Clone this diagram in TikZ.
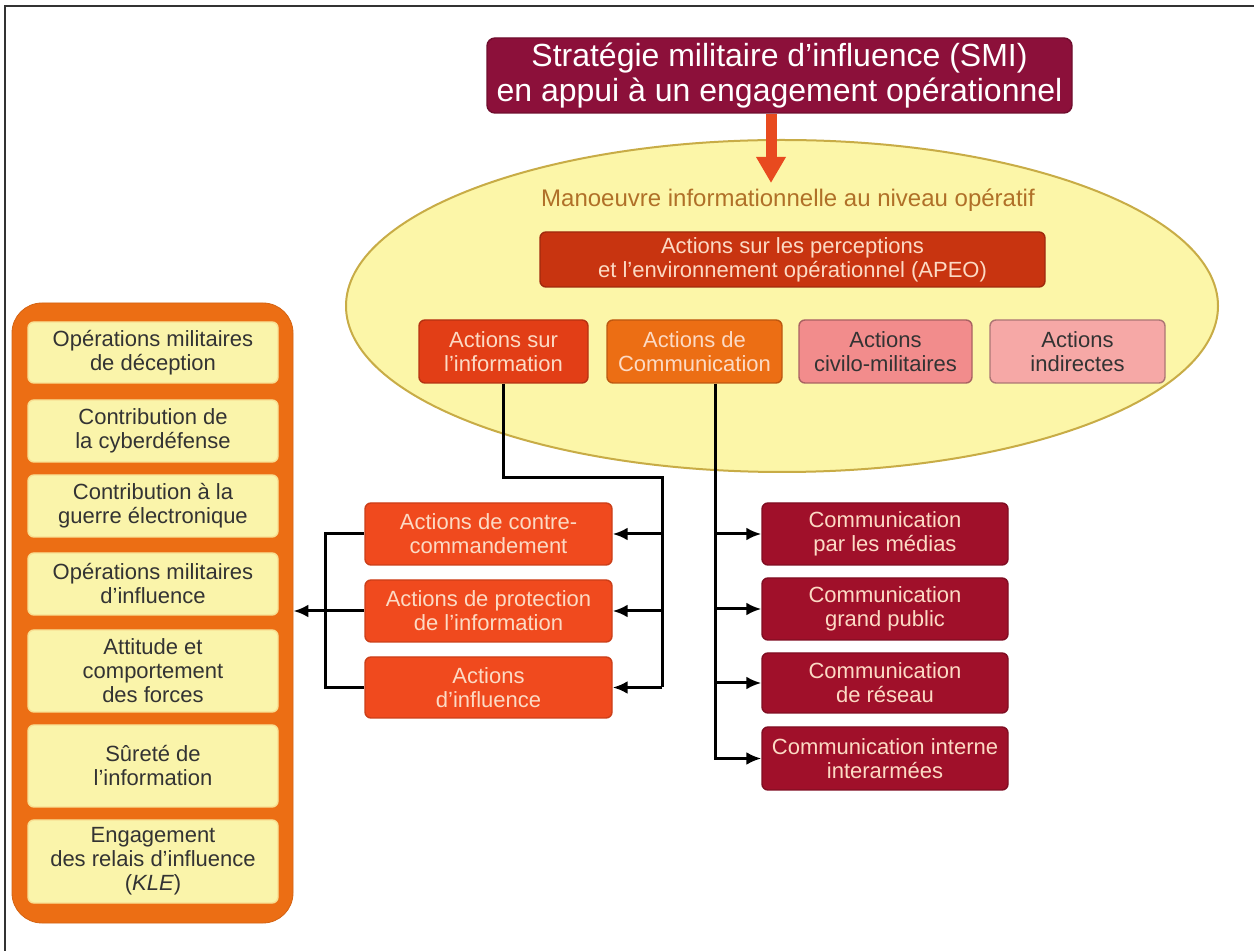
\documentclass[tikz,border=0pt]{standalone}
\usepackage{fontspec}
\setmainfont{Liberation Sans}
\usetikzlibrary{arrows.meta,shapes.geometric}
\definecolor{bordeaux}{RGB}{140,16,58}
\definecolor{flamme}{RGB}{232,74,31}
\definecolor{jaune}{RGB}{252,246,168}
\definecolor{olive}{RGB}{200,172,70}
\definecolor{brun}{RGB}{176,112,40}
\definecolor{brique}{RGB}{200,52,16}
\definecolor{rouge}{RGB}{226,62,22}
\definecolor{orange}{RGB}{236,110,20}
\definecolor{saumon}{RGB}{242,140,140}
\definecolor{rose}{RGB}{246,168,166}
\definecolor{vermillon}{RGB}{240,74,30}
\definecolor{grenat}{RGB}{160,16,42}
\definecolor{paille}{RGB}{250,244,170}
\definecolor{clair}{RGB}{252,218,196}

\begin{document}
\begin{tikzpicture}[x=0.5pt,y=-0.5pt,>={Latex[length=7.5pt,width=6.5pt]},
  bloc/.style={rectangle,rounded corners=3pt,align=center,inner sep=0pt,line width=0.7pt},
  petit/.style={font=\fontsize{11}{12}\selectfont},
  ligne/.style={line width=1.5pt},
  fleche/.style={line width=1.5pt,->}]
\useasboundingbox (0,0) rectangle (1254,951);
\fill[white] (0,0) rectangle (1254,951);
\draw[line width=1pt,black!80] (5,951) -- (5,6.5) -- (1254,6.5);

% titre
\node[bloc,rounded corners=4pt,fill=bordeaux,draw=bordeaux!80!black,text=white,
  font=\fontsize{16}{17.5}\selectfont,minimum width=292.5pt,minimum height=37.5pt]
  (titre) at (779.5,75.5) {Stratégie militaire d’influence (SMI)\\en appui à un engagement opérationnel};

% ellipse
\node[ellipse,fill=jaune,draw=olive,line width=1pt,minimum width=436pt,minimum height=166pt] (manoeuvre) at (782,306) {};
\coordinate (pointe) at (771,183);
\draw[line width=5.5pt,flamme,-{Triangle[width=14pt,length=13pt]}] (titre.south -| pointe) -- (pointe);
\node[text=brun,font=\fontsize{12}{13}\selectfont] (lblman) at (788,200) {Manoeuvre informationnelle au niveau opératif};
\node[bloc,petit,fill=brique,draw=brique!80!black,text=clair,minimum width=252.5pt,minimum height=27.5pt]
  (apeo) at (792.5,259.5) {Actions sur les perceptions\\et l'environnement opérationnel (APEO)};

\node[bloc,petit,fill=rouge,draw=rouge!80!black,text=clair,minimum width=84.5pt,minimum height=31.5pt]
  (info) at (503.5,351.5) {Actions sur\\l'information};
\node[bloc,petit,fill=orange,draw=orange!80!black,text=clair,minimum width=87.5pt,minimum height=31.5pt]
  (comm) at (694.5,351.5) {Actions de\\Communication};
\node[bloc,petit,fill=saumon,draw=saumon!70!black,text=black!80,minimum width=86.5pt,minimum height=31.5pt]
  (civil) at (885.5,351.5) {Actions\\civilo-militaires};
\node[bloc,petit,fill=rose,draw=rose!70!black,text=black!80,minimum width=87.5pt,minimum height=31.5pt]
  (indir) at (1077.5,351.5) {Actions\\indirectes};

% actions sur l'information
\node[bloc,petit,fill=vermillon,draw=vermillon!85!black,text=clair,minimum width=123.5pt,minimum height=31pt]
  (contre) at (488.5,534) {Actions de contre-\\commandement};
\node[bloc,petit,fill=vermillon,draw=vermillon!85!black,text=clair,minimum width=123.5pt,minimum height=31pt]
  (protec) at (488.5,611) {Actions de protection\\de l'information};
\node[bloc,petit,fill=vermillon,draw=vermillon!85!black,text=clair,minimum width=123.5pt,minimum height=30.5pt]
  (influ) at (488.5,687.5) {Actions\\d'influence};

% communication
\node[bloc,petit,fill=grenat,draw=grenat!80!black,text=clair,minimum width=123pt,minimum height=31pt]
  (medias) at (885,534) {Communication\\par les médias};
\node[bloc,petit,fill=grenat,draw=grenat!80!black,text=clair,minimum width=123pt,minimum height=31pt]
  (public) at (885,609) {Communication\\grand public};
\node[bloc,petit,fill=grenat,draw=grenat!80!black,text=clair,minimum width=123pt,minimum height=30pt]
  (reseau) at (885,683) {Communication\\de réseau};
\node[bloc,petit,fill=grenat,draw=grenat!80!black,text=clair,minimum width=123pt,minimum height=31.5pt]
  (interne) at (885,758.5) {Communication interne\\interarmées};

% panneau de gauche
\node[rectangle,rounded corners=15pt,fill=orange,draw=orange!90!black,minimum width=140.5pt,minimum height=310pt]
  (panneau) at (152.5,613) {};
\node[bloc,petit,fill=paille,draw=paille!85!orange,text=black!80,minimum width=125pt,minimum height=30.5pt]
  (deception) at (153,352.5) {Opérations militaires\\de déception};
\node[bloc,petit,fill=paille,draw=paille!85!orange,text=black!80,minimum width=125pt,minimum height=31pt]
  (cyber) at (153,431) {Contribution de\\la cyberdéfense};
\node[bloc,petit,fill=paille,draw=paille!85!orange,text=black!80,minimum width=125pt,minimum height=31pt]
  (guerre) at (153,506) {Contribution à la\\guerre électronique};
\node[bloc,petit,fill=paille,draw=paille!85!orange,text=black!80,minimum width=125pt,minimum height=31pt]
  (omi) at (153,584) {Opérations militaires\\d'influence};
\node[bloc,petit,fill=paille,draw=paille!85!orange,text=black!80,minimum width=125pt,minimum height=41pt]
  (attitude) at (153,671) {Attitude et\\comportement\\des forces};
\node[bloc,petit,fill=paille,draw=paille!85!orange,text=black!80,minimum width=125pt,minimum height=41pt]
  (surete) at (153,766) {Sûreté de\\l'information};
\node[bloc,petit,fill=paille,draw=paille!85!orange,text=black!80,minimum width=125pt,minimum height=41.5pt]
  (kle) at (153,861.5) {Engagement\\des relais d'influence\\(\textit{KLE})};

% liaisons
\coordinate (busI) at (662,478);
\coordinate (busG) at (325,611);
\coordinate (busC) at (715,383);
\draw[ligne] (info.south) |- (busI) -- (busI |- influ.east);
\draw[fleche] (busI |- contre.east) -- (contre.east);
\draw[fleche] (busI |- protec.east) -- (protec.east);
\draw[fleche] (busI |- influ.east) -- (influ.east);
\draw[ligne] (contre.west) -| (busG |- influ.west) -- (influ.west);
\draw[ligne] (protec.west) -- (busG);
\draw[fleche] (busG) -- (panneau.east |- busG);
\draw[fleche] (comm.south -| busC) |- (interne.west);
\draw[fleche] (busC |- medias.west) -- (medias.west);
\draw[fleche] (busC |- public.west) -- (public.west);
\draw[fleche] (busC |- reseau.west) -- (reseau.west);
\end{tikzpicture}
\end{document}
